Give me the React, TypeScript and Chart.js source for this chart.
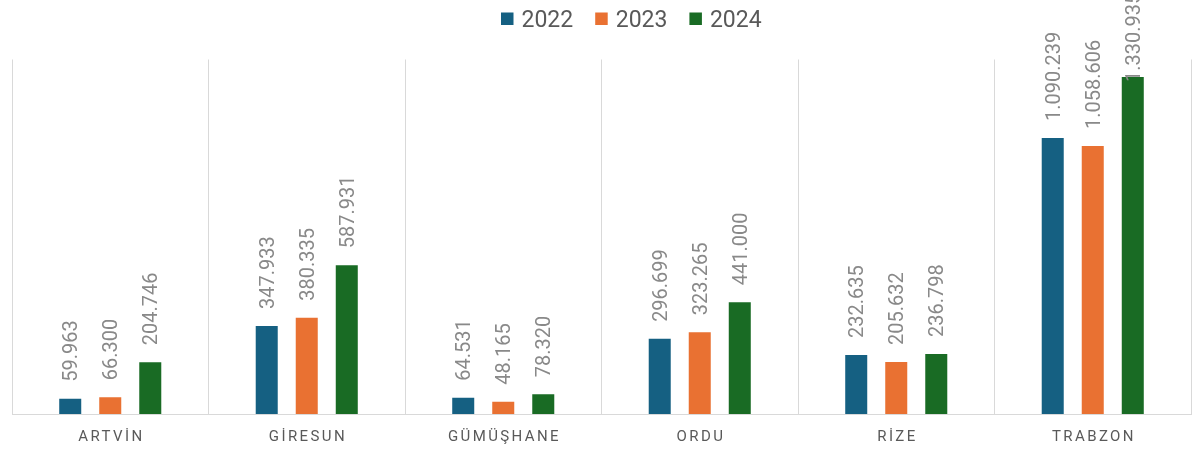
import React, { useEffect, useRef } from "react";
import { Chart, registerables } from "chart.js";

Chart.register(...registerables);

const categories = ["ARTVİN", "GİRESUN", "GÜMÜŞHANE", "ORDU", "RİZE", "TRABZON"];
const seriesNames = ["2022", "2023", "2024"];
const values2022 = [59963, 347933, 64531, 296699, 232635, 1090239];
const values2023 = [66300, 380335, 48165, 323265, 205632, 1058606];
const values2024 = [204746, 587931, 78320, 441000, 236798, 1330935];
const seriesColors = ["#156082", "#E97132", "#196B24"];
const yMax = 1400000;

const FONT = "Roboto, 'Noto Sans', sans-serif";

function fmt(v: number): string {
  return String(Math.round(v)).replace(/\B(?=(\d{3})+(?!\d))/g, ".");
}

const labelsPlugin = {
  id: "customLabels",
  afterDatasetsDraw(chart: any) {
    const ctx = chart.ctx as CanvasRenderingContext2D;
    ctx.save();
    ctx.font = `20px ${FONT}`;
    ctx.fillStyle = "#898989";
    ctx.textAlign = "left";
    ctx.textBaseline = "alphabetic";
    chart.data.datasets.forEach((ds: any, di: number) => {
      const meta = chart.getDatasetMeta(di);
      meta.data.forEach((bar: any, i: number) => {
        const text = fmt(ds.data[i] as number);
        const w = ctx.measureText(text).width;
        let start = bar.y - 17;
        // labels that would leave the canvas are pushed down onto the bar
        if (start - w < 0) start = bar.y + 5;
        ctx.save();
        ctx.translate(bar.x, start);
        ctx.rotate(-Math.PI / 2);
        ctx.fillText(text, 0, 7);
        ctx.restore();
      });
    });
    ctx.restore();
  },
  afterDraw(chart: any) {
    const ctx = chart.ctx as CanvasRenderingContext2D;
    const xScale = chart.scales.x;
    // category labels with letter spacing
    ctx.save();
    ctx.font = `15px ${FONT}`;
    ctx.fillStyle = "#595959";
    ctx.textBaseline = "alphabetic";
    ctx.textAlign = "center";
    const spacing = 2.4;
    (ctx as any).letterSpacing = `${spacing}px`;
    categories.forEach((c, i) => {
      const x = xScale.getPixelForTick(i);
      ctx.fillText(c, x + spacing / 2, 440.5);
    });
    ctx.restore();

    // legend
    ctx.save();
    ctx.font = `23px ${FONT}`;
    ctx.textBaseline = "alphabetic";
    ctx.textAlign = "left";
    let x = 501;
    chart.data.datasets.forEach((ds: any) => {
      ctx.fillStyle = ds.backgroundColor;
      ctx.fillRect(x, 12.5, 12.5, 12.5);
      x += 12.5 + 8;
      ctx.fillStyle = "#595959";
      ctx.fillText(ds.label, x, 26.5);
      x += ctx.measureText(ds.label).width + 22;
    });
    ctx.restore();
  },
};

export default function App() {
  const ref = useRef<HTMLCanvasElement | null>(null);
  useEffect(() => {
    if (!ref.current) return;
    const seriesValues = [values2022, values2023, values2024];
    const chart = new Chart(ref.current, {
      type: "bar",
      data: {
        labels: categories,
        datasets: seriesNames.map((name, i) => ({
          label: name,
          data: seriesValues[i],
          backgroundColor: seriesColors[i],
          borderWidth: 0,
          categoryPercentage: 0.611,
          barPercentage: 0.55,
        })),
      },
      options: {
        animation: false,
        responsive: true,
        maintainAspectRatio: false,
        layout: { padding: { left: 12, right: 1, top: 59.5, bottom: 36 } },
        plugins: {
          legend: { display: false },
          tooltip: { enabled: false },
        },
        scales: {
          x: {
            grid: { offset: true, color: "#d9d9d9", drawTicks: false, lineWidth: 1 },
            border: { color: "#d9d9d9", width: 1 },
            ticks: { display: false },
          },
          y: {
            display: false,
            min: 0,
            max: yMax,
          },
        },
      },
      plugins: [labelsPlugin],
    });
    return () => chart.destroy();
  }, []);
  return (
    <div style={{ position: "absolute", left: 0, top: 0, width: 1192, height: 450 }}>
      <canvas ref={ref} />
    </div>
  );
}
